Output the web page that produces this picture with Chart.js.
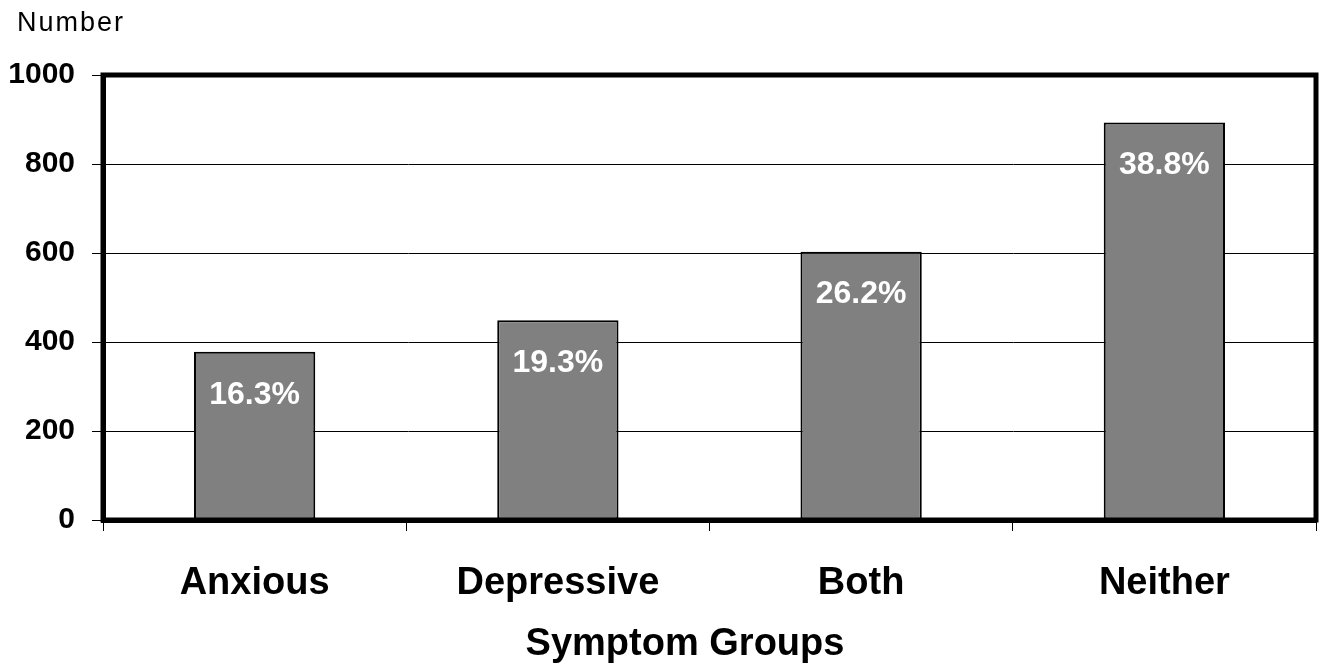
<!DOCTYPE html>
<html lang="en">
<head>
  <meta charset="UTF-8" />
  <title>Symptom Groups</title>
  <script src="https://cdn.jsdelivr.net/npm/chart.js"></script>
  <style>
    html, body { margin: 0; padding: 0; background: #fff; }
    #wrap { width: 1328px; height: 668px; }
  </style>
</head>
<body>
  <div id="wrap"><canvas id="symptomChart"></canvas></div>

  <script>
    const categories = ['Anxious', 'Depressive', 'Both', 'Neither'];
    const counts = [378, 449, 603, 893];
    const percentLabels = ['16.3%', '19.3%', '26.2%', '38.8%'];
    const yTicks = [0, 200, 400, 600, 800, 1000];

    const FONT = "'Liberation Sans', Arial, sans-serif";

    // "Number" caption, axis title, frame around plot area, percent labels in bars
    const decorations = {
      id: 'decorations',
      afterDatasetsDraw(chart) {
        const ctx = chart.ctx;
        const area = chart.chartArea;
        ctx.save();

        ctx.strokeStyle = '#000';
        ctx.lineWidth = 5;
        ctx.strokeRect(area.left, area.top, area.right - area.left, area.bottom - area.top);

        ctx.fillStyle = '#fff';
        ctx.font = 'bold 32px ' + FONT;
        ctx.textAlign = 'center';
        ctx.textBaseline = 'middle';
        chart.getDatasetMeta(0).data.forEach((bar, i) => {
          ctx.fillText(percentLabels[i], bar.x, bar.y + 43);
        });

        ctx.fillStyle = '#000';
        ctx.font = '27px ' + FONT;
        ctx.letterSpacing = '2px';
        ctx.textAlign = 'left';
        ctx.textBaseline = 'alphabetic';
        ctx.fillText('Number', 17, 31);
        ctx.letterSpacing = '0px';

        ctx.font = 'bold 38px ' + FONT;
        ctx.textAlign = 'center';
        ctx.textBaseline = 'middle';
        ctx.fillText('Symptom Groups', 685, 645);
        ctx.restore();
      }
    };

    const ctx = document.getElementById('symptomChart').getContext('2d');
    new Chart(ctx, {
      type: 'bar',
      data: {
        labels: categories,
        datasets: [{
          label: 'Number',
          data: counts,
          backgroundColor: '#808080',
          borderColor: '#000',
          borderWidth: 2,
          borderSkipped: false,
          barPercentage: 0.4,
          categoryPercentage: 1.0
        }]
      },
      options: {
        responsive: true,
        maintainAspectRatio: false,
        animation: false,
        layout: { padding: { top: 75, right: 12, left: 0, bottom: 0 } },
        plugins: {
          legend: { display: false },
          tooltip: { enabled: false }
        },
        scales: {
          x: {
            afterFit(scale) { scale.height = 148; },
            grid: {
              offset: true,
              drawOnChartArea: false,
              drawTicks: true,
              tickLength: 11,
              color: '#000',
              lineWidth: 1
            },
            border: { color: '#000', width: 5 },
            ticks: {
              color: '#000',
              padding: 30,
              font: { family: FONT, size: 38, weight: 'bold' }
            }
          },
          y: {
            min: 0,
            max: 1000,
            afterFit(scale) { scale.width = 103; },
            afterBuildTicks(scale) { scale.ticks = yTicks.map(v => ({ value: v })); },
            grid: {
              color: '#000',
              lineWidth: 1,
              tickLength: 11
            },
            border: { color: '#000', width: 5 },
            ticks: {
              color: '#000',
              padding: 17,
              callback: v => String(v),
              font: { family: FONT, size: 30, weight: 'bold' }
            }
          }
        }
      },
      plugins: [decorations]
    });
  </script>
</body>
</html>
